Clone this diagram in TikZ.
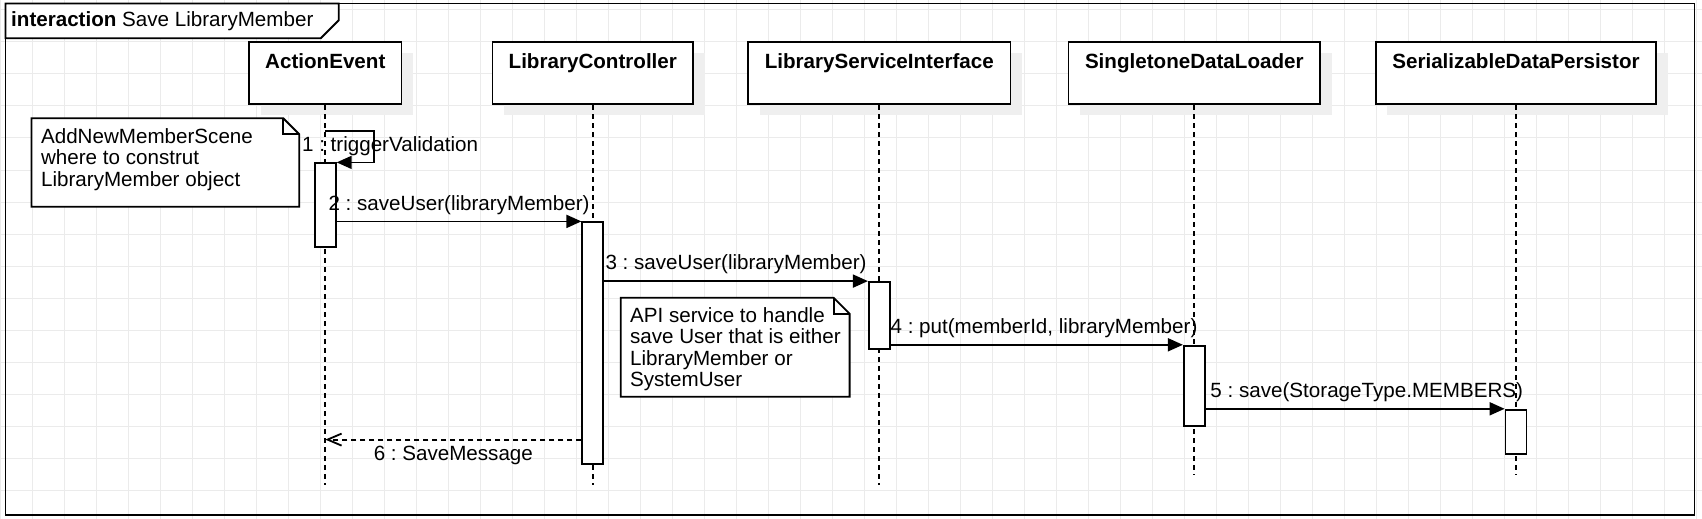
\documentclass[tikz,border=0pt]{standalone}
\usepackage{fontspec}
\setmainfont{Liberation Sans}
\usetikzlibrary{positioning, arrows.meta, calc, shadows}
\definecolor{gridgray}{HTML}{EBEBEB}
\definecolor{shadowgray}{HTML}{EFEFEF}
\frenchspacing

\begin{document}
\begin{tikzpicture}[x=0.5pt, y=-0.5pt, line width=0.9pt,
    every node/.style={font=\fontsize{10.3}{10.7}\selectfont, inner sep=0pt},
    gridline/.style={gridgray, line width=0.5pt},
    lifebox/.style={draw, fill=white, font=\fontsize{10.3}{10.7}\selectfont\bfseries,
        minimum height=31.3pt, text height=13.3pt, text depth=18pt,
        drop shadow={shadow xshift=5.75pt, shadow yshift=-5.5pt, fill=shadowgray, opacity=1}},
    lifeline/.style={dash pattern=on 2.5pt off 2pt},
    act/.style={draw, fill=white, minimum width=10.5pt},
    msg/.style={-{Triangle[length=7.5pt, width=6.5pt]}},
    reply/.style={dash pattern=on 2.5pt off 2pt, -{Straight Barb[length=7pt, width=6pt]}},
    notebox/.style={draw, fill=white},
    notetext/.style={anchor=north west, align=left}]
    \useasboundingbox (0,0) rectangle (1702,519);
    % background grid
    \foreach \gx in {0.5,32.5,...,1702} \draw[gridline] (\gx,0) -- (\gx,519);
    \foreach \gy in {10,42,...,519} \draw[gridline] (0,\gy) -- (1702,\gy);

    % interaction frame
    \draw (5.5,3.5) rectangle (1694.5,515);
    \filldraw[fill=white] (5.5,3.5) -- (338.7,3.5) -- (338.7,20.3) -- (320.7,38.3) -- (5.5,38.3) -- cycle;
    \node[anchor=base west] (title) at (10.3,26.7) {\textbf{interaction} Save LibraryMember};

    % lifelines
    \node[lifebox, minimum width=76.2pt] (ae) at (325.3,73) {ActionEvent};
    \node[lifebox, minimum width=100.3pt] (lc) at (592.8,73) {LibraryController};
    \node[lifebox, minimum width=131.1pt] (lsi) at (879.3,73) {LibraryServiceInterface};
    \node[lifebox, minimum width=125.8pt] (sdl) at (1194.3,73) {SingletoneDataLoader};
    \node[lifebox, minimum width=140.3pt] (sdp) at (1516,73) {SerializableDataPersistor};
    \coordinate (ae end) at (325.3,485);
    \coordinate (lc end) at (592.8,485);
    \coordinate (lsi end) at (879.3,485);
    \coordinate (sdl end) at (1194.3,475);
    \coordinate (sdp end) at (1516,475);
    \draw[lifeline] (ae.south) -- (ae end);
    \draw[lifeline] (lc.south) -- (lc end);
    \draw[lifeline] (lsi.south) -- (lsi end);
    \draw[lifeline] (sdl.south) -- (sdl end);
    \draw[lifeline] (sdp.south) -- (sdp end);

    % activations
    \node[act, minimum height=41.7pt] (ae act) at (325.3,205) {};
    \node[act, minimum height=121pt] (lc act) at (592.8,343.3) {};
    \node[act, minimum height=33.5pt] (lsi act) at (879.3,315.5) {};
    \node[act, minimum height=40pt] (sdl act) at (1194.3,385.7) {};
    \node[act, minimum height=22.3pt] (sdp act) at (1516,432) {};

    % messages
    \coordinate (self) at (325.3,131);
    \draw[msg] (self) -- ++(49,0) |- (ae act.north east);
    \node[anchor=west] (m1) at (301.2,146) {1 : triggerValidation};
    \draw[msg] (lc act.north west -| ae act.east) -- (lc act.north west)
        node[midway, above=3pt] (m2) {2 : saveUser(libraryMember)};
    \draw[msg] (lsi act.north west -| lc act.east) -- (lsi act.north west)
        node[midway, above=3pt] (m3) {3 : saveUser(libraryMember)};
    \draw[msg] (sdl act.north west -| lsi act.east) -- (sdl act.north west)
        node[midway, above=3pt, xshift=3.6pt] (m4) {4 : put(memberId, libraryMember)};
    \draw[msg] (sdp act.north west -| sdl act.east) -- (sdp act.north west)
        node[midway, above=3pt, xshift=5.8pt] (m5) {5 : save(StorageType.MEMBERS)};
    \coordinate (ret) at ($(lc act.south west)+(0,-25.6)$);
    \draw[reply] (ret) -- (ret -| ae end)
        node[midway, below=3pt] (m6) {6 : SaveMessage};

    % notes
    \draw[notebox] (31.4,118.3) -- (283.3,118.3) -- (299.3,134.3) -- (299.3,206.7) -- (31.4,206.7) -- cycle;
    \draw (283.3,118.3) |- (299.3,134.3);
    \node[notetext] (note1) at (40.2,127.7) {AddNewMemberScene\\where to construt\\LibraryMember object};
    \draw[notebox] (620.8,297.7) -- (833.6,297.7) -- (849.6,313.7) -- (849.6,396.7) -- (620.8,396.7) -- cycle;
    \draw (833.6,297.7) |- (849.6,313.7);
    \node[notetext] (note2) at (629.2,306.7) {API service to handle\\save User that is either\\LibraryMember or\\SystemUser};
\end{tikzpicture}
\end{document}
